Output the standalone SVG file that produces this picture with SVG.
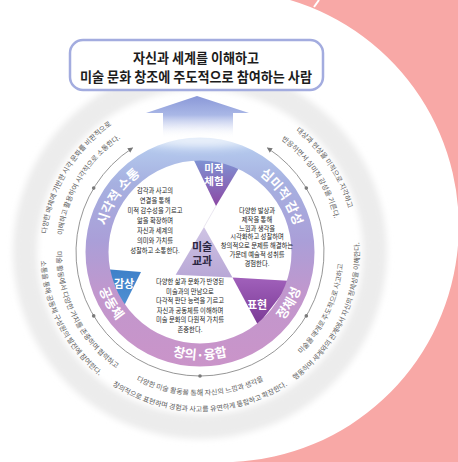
<svg xmlns="http://www.w3.org/2000/svg" width="458" height="462" viewBox="0 0 458 462">
<defs>
<style>
.title{font-family:'Noto Sans CJK KR','Noto Sans',sans-serif;font-weight:bold;font-size:13.5px;fill:#1c1c1c;text-anchor:middle}
.band{font-family:'Noto Sans CJK KR','Noto Sans',sans-serif;font-weight:bold;font-size:13px;fill:#ffffff}
.desc{font-family:'Noto Sans CJK KR','Noto Sans',sans-serif;font-size:7px;fill:#5a5a5a}
.blade{font-family:'Noto Sans CJK KR','Noto Sans',sans-serif;font-size:6.3px;fill:#1a1a1a;text-anchor:middle}
.tri{font-family:'Noto Sans CJK KR','Noto Sans',sans-serif;font-weight:bold;font-size:11px;fill:#ffffff;text-anchor:middle}
.core{font-family:'Noto Sans CJK KR','Noto Sans',sans-serif;font-weight:bold;font-size:11px;fill:#2a2540;text-anchor:middle}
</style>
<linearGradient id="gArrow" x1="0" y1="96" x2="0" y2="138" gradientUnits="userSpaceOnUse">
<stop offset="0" stop-color="#8a98d8"/>
<stop offset="0.45" stop-color="#a9b7e6"/>
<stop offset="1" stop-color="#ffffff" stop-opacity="0.2"/>
</linearGradient>
<linearGradient id="gRing" x1="0" y1="138" x2="0" y2="366" gradientUnits="userSpaceOnUse">
<stop offset="0" stop-color="#b8d0f1"/>
<stop offset="0.2" stop-color="#a6b0e0"/>
<stop offset="0.45" stop-color="#aa9fd8"/>
<stop offset="0.68" stop-color="#c197cd"/>
<stop offset="1" stop-color="#ca94c9"/>
</linearGradient>
<linearGradient id="gMijeok" x1="0" y1="160" x2="0" y2="206" gradientUnits="userSpaceOnUse">
<stop offset="0" stop-color="#7f93d3"/>
<stop offset="1" stop-color="#8c48a4"/>
</linearGradient>
<linearGradient id="gPyo" x1="0" y1="278" x2="0" y2="325" gradientUnits="userSpaceOnUse">
<stop offset="0" stop-color="#a060ba"/>
<stop offset="1" stop-color="#7a3995"/>
</linearGradient>
<linearGradient id="gGam" x1="0" y1="270" x2="0" y2="312" gradientUnits="userSpaceOnUse">
<stop offset="0" stop-color="#3e80c9"/>
<stop offset="1" stop-color="#5294d4"/>
</linearGradient>
<linearGradient id="gCore" x1="0" y1="227" x2="0" y2="278" gradientUnits="userSpaceOnUse">
<stop offset="0" stop-color="#cfc4e4"/>
<stop offset="1" stop-color="#b8a7d6"/>
</linearGradient>
<filter id="soft" x="-20%" y="-20%" width="140%" height="140%"><feGaussianBlur stdDeviation="3"/></filter>
<filter id="glow" x="-50%" y="-200%" width="200%" height="500%"><feGaussianBlur stdDeviation="5"/></filter>
<marker id="tip" viewBox="0 0 8 8" refX="6" refY="4" markerWidth="6" markerHeight="6" orient="auto-start-reverse" markerUnits="userSpaceOnUse">
<path d="M0,0.5 L7,4 L0,7.5 Z" fill="#777777"/>
</marker>
<path id="pSim" d="M 226.9 158.3 A 97.5 97.5 0 0 1 297.0 262.2"/>
<path id="pSi" d="M 103.0 262.2 A 97.5 97.5 0 0 1 173.1 158.3"/>
<path id="pJeong" d="M 236.8 353.0 A 107.5 107.5 0 0 0 305.9 233.3"/>
<path id="pChang" d="M 130.9 334.4 A 107.5 107.5 0 0 0 269.1 334.4"/>
<path id="pGong" d="M 94.1 233.3 A 107.5 107.5 0 0 0 163.2 353.0"/>
<path id="dSiO" d="M 53.9 302.3 A 154.5 154.5 0 0 1 175.8 99.4"/>
<path id="dSiI" d="M 69.0 297.1 A 138.5 138.5 0 0 1 178.3 115.2"/>
<path id="dSimO" d="M 216.1 98.4 A 154.5 154.5 0 0 1 348.5 294.6"/>
<path id="dSimI" d="M 214.5 114.3 A 138.5 138.5 0 0 1 333.1 290.2"/>
<path id="dJeI" d="M 237.1 390.6 A 143.5 143.5 0 0 0 330.1 191.4"/>
<path id="dJeO" d="M 241.3 406.1 A 159.5 159.5 0 0 0 344.6 184.6"/>
<path id="dChI" d="M 90.1 344.2 A 143.5 143.5 0 0 0 309.9 344.2"/>
<path id="dChO" d="M 77.8 354.5 A 159.5 159.5 0 0 0 322.2 354.5"/>
<path id="dGoI" d="M 67.9 195.9 A 143.5 143.5 0 0 0 167.7 391.8"/>
<path id="dGoO" d="M 53.2 189.7 A 159.5 159.5 0 0 0 164.1 407.4"/>
</defs>

<g id="background">
<rect x="0" y="0" width="458" height="462" fill="#ffffff"/>
<circle cx="200" cy="252" r="175" fill="none" stroke="#ececec" stroke-width="24" filter="url(#soft)"/>
<path d="M 290 0 L 458 0 L 458 462 L 233 462 A 236 236 0 0 0 290 0 Z" fill="#f8a8a6"/>
<line x1="319" y1="0" x2="314" y2="7" stroke="#ffffff" stroke-width="2"/>
</g>

<g id="goal">
<rect x="70" y="40" width="253" height="50" rx="13" fill="#ffffff" stroke="#a3acdf" stroke-width="2.5"/>
<text class="title" x="196" y="63" textLength="126" lengthAdjust="spacingAndGlyphs">자신과 세계를 이해하고</text>
<text class="title" x="196" y="81.5" textLength="232" lengthAdjust="spacingAndGlyphs">미술 문화 창조에 주도적으로 참여하는 사람</text>
</g>

<g id="connectors">
<polygon points="197,96 249,113 233,113 233,142 163,142 163,113 146,113" fill="url(#gArrow)"/>
<path d="M 267.5 148.0 A 124 124 0 1 1 132.5 148.0" fill="none" stroke="#8a8a8a" stroke-width="0.9" marker-start="url(#tip)" marker-end="url(#tip)"/>
<g fill="#7a7a7a">
<circle cx="93.7" cy="188.1" r="1.8"/>
<circle cx="93.7" cy="315.9" r="1.8"/>
<circle cx="200" cy="376" r="1.8"/>
<circle cx="306.3" cy="315.9" r="1.8"/>
<circle cx="306.3" cy="188.1" r="1.8"/>
</g>
</g>

<g id="wheel">
<circle cx="200" cy="252" r="92" fill="#ffffff"/>
<g id="core">
<polygon points="204,227 175.7,274.8 232.5,277.6" fill="url(#gCore)"/>
<text class="core" x="202" y="251">미술</text>
<text class="core" x="202" y="265">교과</text>
</g>
<g id="mijeok-chehum">
<polygon points="188,148 248,153 216,206" fill="url(#gMijeok)"/>
<text class="tri" x="214" y="172" style="font-size:10.5px">미적</text>
<text class="tri" x="214" y="185" style="font-size:10.5px">체험</text>
</g>
<g id="pyohyeon">
<polygon points="232.5,277.6 292,281 258,325" fill="url(#gPyo)"/>
<text class="tri" x="257" y="309">표현</text>
</g>
<g id="gamsang">
<polygon points="92,268 141,272 120,314" fill="url(#gGam)"/>
<text class="tri" x="124" y="288">감상</text>
</g>
<line x1="216" y1="206" x2="204" y2="227" stroke="#e4e0ec" stroke-width="0.8"/>
<g id="ring">
<circle cx="200" cy="252" r="103" fill="none" stroke="url(#gRing)" stroke-width="23"/>
<ellipse cx="200" cy="140" rx="55" ry="7" fill="#ffffff" opacity="0.75" filter="url(#glow)"/>
</g>
<g id="ring-labels">
<text class="band"><textPath href="#pSim" startOffset="50%" text-anchor="middle">심미적 감성</textPath></text>
<text class="band"><textPath href="#pSi" startOffset="50%" text-anchor="middle">시각적 소통</textPath></text>
<text class="band"><textPath href="#pJeong" startOffset="50%" text-anchor="middle">정체성</textPath></text>
<text class="band"><textPath href="#pChang" startOffset="50%" text-anchor="middle">창의·융합</textPath></text>
<text class="band"><textPath href="#pGong" startOffset="50%" text-anchor="middle">공동체</textPath></text>
</g>
<g id="blade-experience">
<text class="blade" x="155" y="193">감각과 사고의</text>
<text class="blade" x="155" y="203">연결을 통해</text>
<text class="blade" x="155" y="213">미적 감수성을 기르고</text>
<text class="blade" x="155" y="223">앎을 확장하며</text>
<text class="blade" x="155" y="233">자신과 세계의</text>
<text class="blade" x="155" y="243">의미와 가치를</text>
<text class="blade" x="155" y="253">성찰하고 소통한다.</text>
</g>
<g id="blade-expression">
<text class="blade" x="257" y="213">다양한 발상과</text>
<text class="blade" x="257" y="221.8">제작을 통해</text>
<text class="blade" x="257" y="230.6">느낌과 생각을</text>
<text class="blade" x="257" y="239.4">시각화하고 성찰하며</text>
<text class="blade" x="257" y="248.2">창의적으로 문제를 해결하는</text>
<text class="blade" x="257" y="257">가운데 예술적 성취를</text>
<text class="blade" x="257" y="265.8">경험한다.</text>
</g>
<g id="blade-appreciation">
<text class="blade" x="190" y="284">다양한 삶과 문화가 반영된</text>
<text class="blade" x="190" y="293.6">미술과의 만남으로</text>
<text class="blade" x="190" y="303.2">다각적 판단 능력을 기르고</text>
<text class="blade" x="190" y="312.8">자신과 공동체를 이해하며</text>
<text class="blade" x="190" y="322.4">미술 문화의 다원적 가치를</text>
<text class="blade" x="190" y="332">존중한다.</text>
</g>
</g>

<g id="descriptions">
<text class="desc"><textPath href="#dSiO" startOffset="50%" text-anchor="middle">다양한 매체에 기반한 시각 문화를 비판적으로</textPath></text>
<text class="desc"><textPath href="#dSiI" startOffset="50%" text-anchor="middle">이해하고 활용하여 시각적으로 소통한다.</textPath></text>
<text class="desc"><textPath href="#dSimO" startOffset="50%" text-anchor="middle">대상과 현상을 미적으로 지각하고</textPath></text>
<text class="desc"><textPath href="#dSimI" startOffset="50%" text-anchor="middle">반응하면서 심미적 감성을 기른다.</textPath></text>
<text class="desc"><textPath href="#dJeI" startOffset="50%" text-anchor="middle">미술을 매개로 주도적으로 사고하고</textPath></text>
<text class="desc"><textPath href="#dJeO" startOffset="50%" text-anchor="middle">행동하며 세계와의 관계에서 자신의 정체성을 이해한다.</textPath></text>
<text class="desc"><textPath href="#dChI" startOffset="50%" text-anchor="middle">다양한 미술 활동을 통해 자신의 느낌과 생각을</textPath></text>
<text class="desc"><textPath href="#dChO" startOffset="50%" text-anchor="middle">창의적으로 표현하며 경험과 사고를 유연하게 통합하고 확장한다.</textPath></text>
<text class="desc"><textPath href="#dGoI" startOffset="50%" text-anchor="middle">미술 활동에서 다양한 가치를 존중하며 협력하고</textPath></text>
<text class="desc"><textPath href="#dGoO" startOffset="50%" text-anchor="middle">소통을 통해 공동체 구성원의 발전에 참여한다.</textPath></text>
</g>
</svg>
